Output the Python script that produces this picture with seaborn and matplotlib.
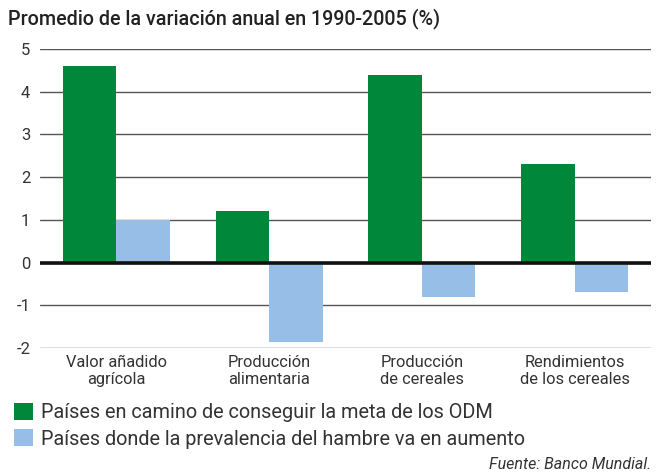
import numpy as np
import pandas as pd
import matplotlib.pyplot as plt
import seaborn as sns
from matplotlib.patches import Patch

# datos
categorias = ["Valor añadido\nagrícola", "Producción\nalimentaria",
              "Producción\nde cereales", "Rendimientos\nde los cereales"]
serie_odm = [4.6, 1.2, 4.4, 2.3]
serie_hambre = [1.0, -1.85, -0.8, -0.7]
nombres_series = ["Países en camino de conseguir la meta de los ODM",
                  "Países donde la prevalencia del hambre va en aumento"]
colores = ["#00873A", "#97BEE6"]

df = pd.DataFrame({
    "categoria": categorias * 2,
    "valor": serie_odm + serie_hambre,
    "serie": [nombres_series[0]] * 4 + [nombres_series[1]] * 4,
})

sns.set_style("white")
plt.rcParams['font.family'] = ['Roboto', 'DejaVu Sans']

fig = plt.figure(figsize=(6.59, 4.75), dpi=100)
ax = fig.add_axes([0.0607, 0.2674, 0.988 - 0.0607, 0.8968 - 0.2674])

sns.barplot(data=df, x="categoria", y="valor", hue="serie", palette=colores,
            width=0.7, saturation=1, linewidth=0, ax=ax, legend=False, zorder=3)

ax.set_ylim(-2, 5)
ax.set_xlim(-0.5, 3.5)
ax.set_yticks(range(-2, 6))
ax.set_yticklabels([str(v) for v in range(-2, 6)], fontsize=12, color="#333333")
ax.tick_params(axis="y", length=0, pad=7)
ax.tick_params(axis="x", length=0, pad=5, labelsize=11.8, labelcolor="#333333")
ax.set_xlabel("")
ax.set_ylabel("")
for lbl in ax.get_xticklabels():
    lbl.set_linespacing(1.15)
ax.grid(axis="y", color="#555555", linewidth=1.0, zorder=0)
ax.grid(axis="x", visible=False)
ax.axhline(0, color="#111111", linewidth=2.6, zorder=4)
for s in ax.spines.values():
    s.set_visible(False)

fig.text(0.012, 0.962, "Promedio de la variación anual en 1990-2005 (%)",
         fontsize=14.2, fontweight="medium", color="#222222", va="center")

handles = [Patch(facecolor=c, edgecolor="none") for c in colores]
fig.legend(handles, nombres_series, loc="upper left", bbox_to_anchor=(0.022, 0.152),
           frameon=False, fontsize=14.3, handlelength=0.95, handleheight=0.95,
           handletextpad=0.4, labelspacing=0.35, borderaxespad=0, borderpad=0,
           labelcolor="#333333")

fig.text(0.988, 0.022, "Fuente: Banco Mundial.", fontsize=11.5, style="italic",
         color="#333333", ha="right", va="center")

plt.savefig("out.png", dpi=100)
plt.close()
